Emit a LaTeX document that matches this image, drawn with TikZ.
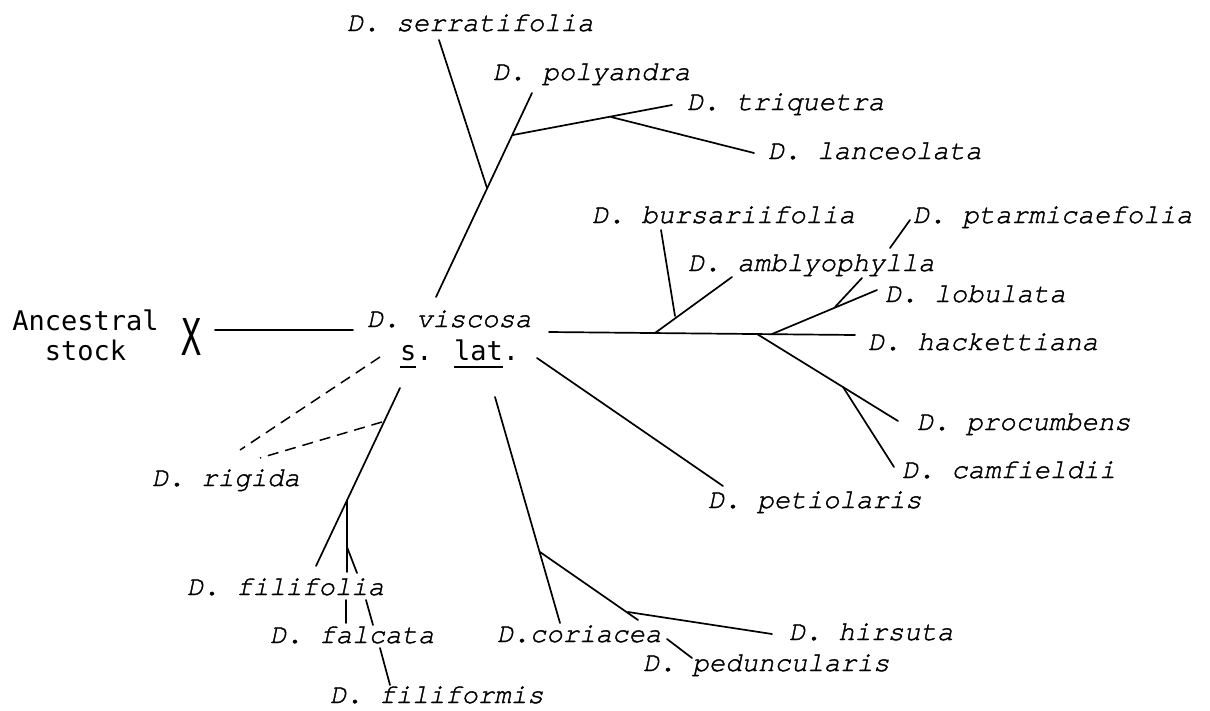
\documentclass[tikz,border=0pt]{standalone}
\usepackage{fontspec}
\newfontfamily\typefam{texgyrecursor-italic.otf}[Ligatures=NoCommon, FakeBold=1.4]
\newfontfamily\gothicfam{DejaVu Sans Mono}
% underline drawn as a rule a little below the baseline
\newcommand\ulword[1]{\leavevmode\setbox0\hbox{#1}\rlap{\rule[-7.5pt]{\wd0}{1.5pt}}\box0}
\tikzset{
  taxon/.style={font=\typefam\fontsize{27.4}{32}\selectfont,
                anchor=base west, inner sep=0pt, outer sep=0pt},
  plain/.style={font=\gothicfam\fontsize{27}{30}\selectfont,
                anchor=base, inner sep=0pt, outer sep=0pt},
  branch/.style={line width=1.7pt, line cap=round},
  doubtful/.style={line width=1.5pt, dash pattern=on 11pt off 7pt}
}
\begin{document}
\begin{tikzpicture}[x=1pt, y=-1pt]
\useasboundingbox (0,0) rectangle (1210,710);

% ---- labels ----
\node[plain] (anc1) at (85.5,330) {Ancestral};
\node[plain] (anc2) at (85.5,360) {stock};
\node[plain, anchor=center] (cross) at (191,336.5) {\resizebox{20pt}{37pt}{X}};
\node[taxon] (visc) at (367,327) {D. viscosa};
\node[plain, anchor=base west] (slat) at (400,360) {\ulword{s}. \ulword{lat}.};

\node[taxon] (serr) at (347,31) {D. serratifolia};
\node[taxon] (poly) at (493,80) {D. polyandra};
\node[taxon] (triq) at (687,110) {D. triquetra};
\node[taxon] (lanc) at (768,159) {D. lanceolata};

\node[taxon] (burs) at (592,223) {D. bursariifolia};
\node[taxon] (ptar) at (913,223) {D. ptarmicaefolia};
\node[taxon] (ambl) at (688,271) {D. amblyophylla};
\node[taxon] (lobu) at (885,302) {D. lobulata};
\node[taxon] (hack) at (868,350) {D. hackettiana};
\node[taxon] (proc) at (917,430) {D. procumbens};
\node[taxon] (camf) at (902,478) {D. camfieldii};
\node[taxon] (peti) at (708,508) {D. petiolaris};

\node[taxon] (rigi) at (152,486) {D. rigida};
\node[taxon] (fili) at (187,595) {D. filifolia};
\node[taxon] (falc) at (270,643) {D. falcata};
\node[taxon] (flfm) at (330,703) {D. filiformis};

\node[taxon] (cori) at (497,642) {D.coriacea};
\node[taxon] (hirs) at (789,640) {D. hirsuta};
\node[taxon] (pedu) at (643,671) {D. peduncularis};

% ---- branch points and line ends ----
\coordinate (ancA) at (215,330);  \coordinate (ancB) at (353,330);

\coordinate (upA) at (436,297);   \coordinate (upB) at (532,93);
\coordinate (serA) at (487,188);  \coordinate (serB) at (439,40);
\coordinate (triA) at (513,135);  \coordinate (triB) at (672,105);
\coordinate (lanA) at (611,117);  \coordinate (lanB) at (754,153);

\coordinate (rtA) at (549,332);   \coordinate (rtB) at (855,335);
\coordinate (amA) at (655,333);   \coordinate (amB) at (732,277);
\coordinate (buA) at (675,316);   \coordinate (buB) at (661,230);
\coordinate (loA) at (772,334);   \coordinate (loB) at (877,290);
\coordinate (ptA) at (835,307);   \coordinate (ptB) at (862,278);
\coordinate (ptC) at (890,248);   \coordinate (ptD) at (910,220);
\coordinate (prA) at (757,334);   \coordinate (prB) at (898,421);
\coordinate (caA) at (843,387);   \coordinate (caB) at (894,467);
\coordinate (peA) at (537,358);   \coordinate (peB) at (723,486);

\coordinate (dsA) at (380,357);   \coordinate (dsB) at (240,450);
\coordinate (dtA) at (382,422);   \coordinate (dtB) at (260,458);

\coordinate (flA) at (400,388);   \coordinate (flB) at (316,566);
\coordinate (fvA) at (347,500);   \coordinate (fvB) at (347,572);
\coordinate (fbA) at (347,547);   \coordinate (fbB) at (357,573);
\coordinate (fcA) at (346,600);   \coordinate (fcB) at (346,623);
\coordinate (fmA) at (366,600);   \coordinate (fmB) at (373,625);
\coordinate (fnA) at (380,648);   \coordinate (fnB) at (390,685);

\coordinate (coA) at (495,397);   \coordinate (coB) at (560,623);
\coordinate (hbA) at (540,552);   \coordinate (hbB) at (638,620);
\coordinate (hiA) at (628,612);   \coordinate (hiB) at (772,634);
\coordinate (pdA) at (667,639);   \coordinate (pdB) at (692,658);

% ---- solid branches ----
\draw[branch] (ancA) -- (ancB);
\draw[branch] (upA) -- (upB);
\draw[branch] (serA) -- (serB);
\draw[branch] (triA) -- (triB);
\draw[branch] (lanA) -- (lanB);

\draw[branch] (rtA) -- (rtB);
\draw[branch] (amA) -- (amB);
\draw[branch] (buA) -- (buB);
\draw[branch] (loA) -- (loB);
\draw[branch] (ptA) -- (ptB);
\draw[branch] (ptC) -- (ptD);
\draw[branch] (prA) -- (prB);
\draw[branch] (caA) -- (caB);
\draw[branch] (peA) -- (peB);

\draw[branch] (flA) -- (flB);
\draw[branch] (fvA) -- (fvB);
\draw[branch] (fbA) -- (fbB);
\draw[branch] (fcA) -- (fcB);
\draw[branch] (fmA) -- (fmB);
\draw[branch] (fnA) -- (fnB);

\draw[branch] (coA) -- (coB);
\draw[branch] (hbA) -- (hbB);
\draw[branch] (hiA) -- (hiB);
\draw[branch] (pdA) -- (pdB);

% ---- uncertain links to D. rigida ----
\draw[doubtful] (dsA) -- (dsB);
\draw[doubtful] (dtA) -- (dtB);
\end{tikzpicture}
\end{document}
